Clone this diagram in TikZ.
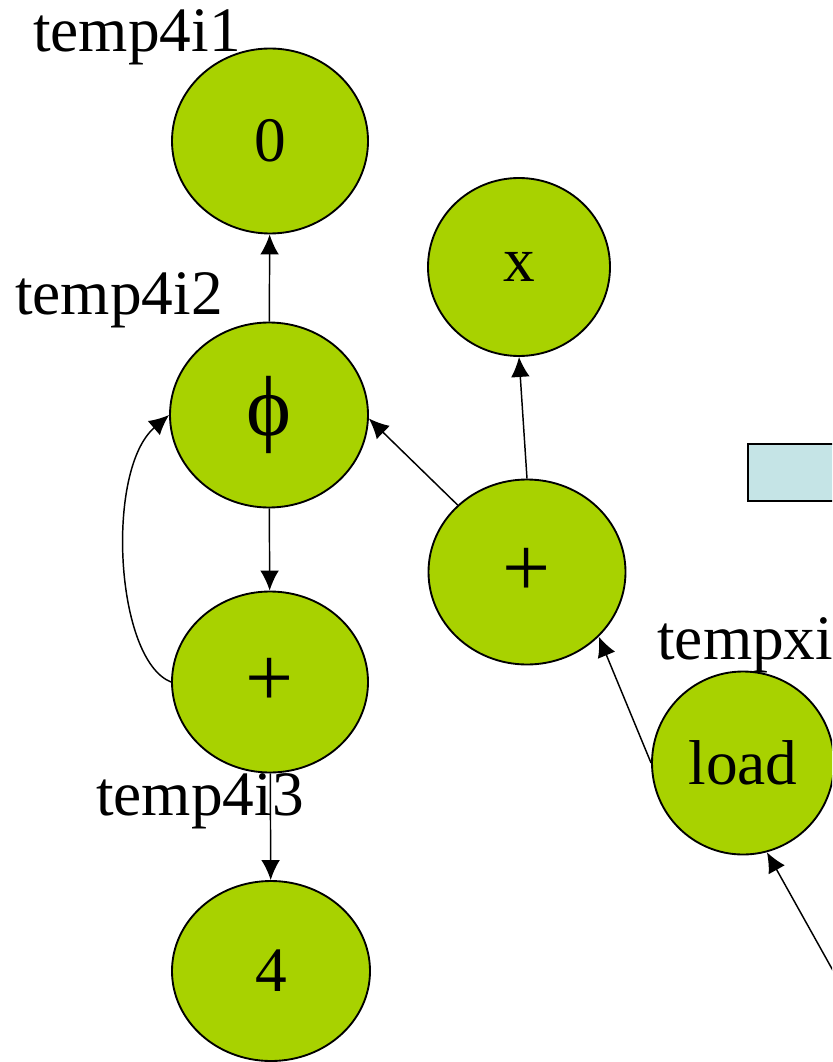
\documentclass[tikz,border=0pt]{standalone}
\usepackage{fontspec}
\setmainfont{Liberation Serif}
\usetikzlibrary{arrows.meta,shapes.geometric,positioning}
\definecolor{opGreen}{RGB}{168,210,0}
\definecolor{boxBlue}{RGB}{197,228,230}

\newcommand\bigsym[1]{{\fontsize{64}{64}\selectfont #1}}

\tikzset{
  opnode/.style={ellipse, draw=black, line width=1.4pt, fill=opGreen, inner sep=0pt,
    font=\fontsize{47.5}{50}\selectfont},
  tmplabel/.style={anchor=base west, inner sep=0pt, font=\fontsize{47.5}{50}\selectfont},
  dep/.style={line width=1.1pt, -{Latex[length=15pt,width=14pt]}}
}

\begin{document}
\begin{tikzpicture}[x=0.75pt,y=-0.75pt]

      \useasboundingbox (0,0) rectangle (832,1062);
      \clip (0,0) rectangle (832,1062);

      % name/x/y/width/height/text of the operation nodes
      \def\opnodes{
        n0/270/141/196/185/{0},
        nphi/269/415/198/185/{\bigsym{ϕ}},
        nplusL/270/682/196/181/{\bigsym{+}},
        nfour/271/971/198/180/{4},
        nx/519/267/182/178/{x},
        nplusM/527/572/197/185/{\bigsym{+}},
        nload/743/763/182/183/{load}
      }

      % draw the nodes
      \foreach \nm/\cx/\cy/\w/\h/\txt in \opnodes
        \node[opnode, minimum width={\w*0.75pt}, minimum height={\h*0.75pt}] (\nm) at (\cx,\cy) {\txt};

      % the cut box on the right
      \draw[line width=1.4pt, fill=boxBlue] (748,444) rectangle (900,501);

      % the temporaries
      \def\temps{l1/33/52/{temp4i1}, l2/15/314/{temp4i2}, l3/96/815/{temp4i3}, lx/657/659/{tempxi}}
      \foreach \nm/\cx/\cy/\txt in \temps
        \node[tmplabel] (\nm) at (\cx,\cy) {\txt};

      % draw the dependences
      \coordinate (memin) at (860,1019);
      \draw[dep] (nphi) -- (n0);
      \draw[dep] (nphi) -- (nplusL);
      \draw[dep] (nplusL) -- (nfour);
      \draw[dep] (nplusL.west) .. controls (115,660) and (105,470) .. (nphi.west);
      \draw[dep] (nplusM.136) -- (nphi.-2);
      \draw[dep] (nplusM.north) -- (nx.south);
      \draw[dep] (nload.west) -- (nplusM.-42);
      \draw[dep] (memin) -- (nload.-75);

    \end{tikzpicture}
\end{document}
